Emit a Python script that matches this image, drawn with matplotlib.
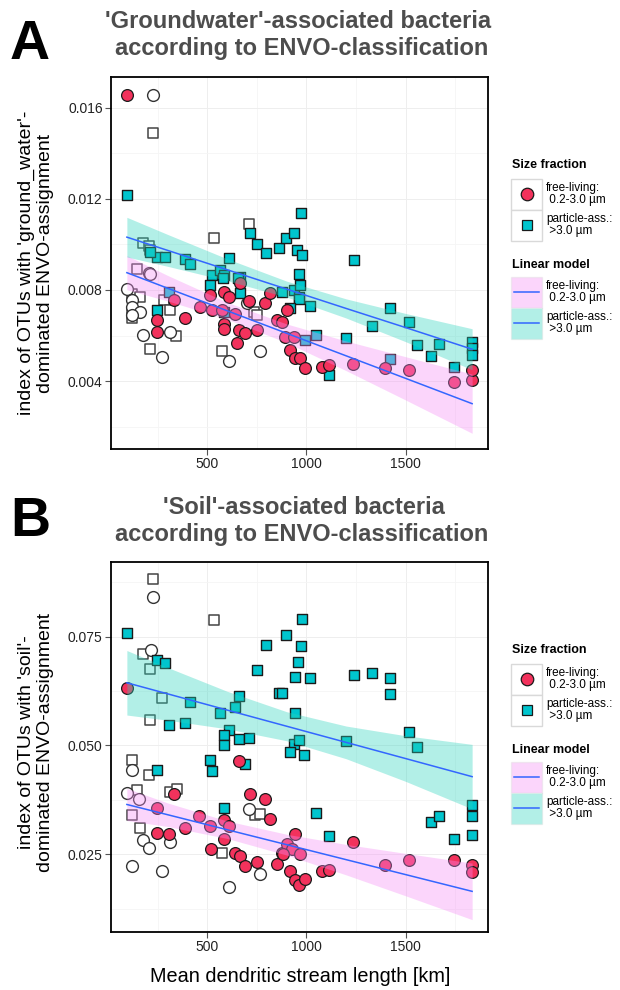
import matplotlib
matplotlib.use("Agg")
import matplotlib.pyplot as plt
from matplotlib.lines import Line2D
from matplotlib.patches import Rectangle
from matplotlib.ticker import MultipleLocator, FormatStrFormatter

plt.rcParams['font.family'] = ['Liberation Sans', 'DejaVu Sans']

W, H = 620, 990
RED = '#F2325C'; TEAL = '#00C5CE'; BLUE = '#3366FF'
PINK_RIB = '#F58CF5'; TEAL_RIB = '#2BD4BD'

# ---- panel A: groundwater ----
a_free_x = [95, 333, 515, 582, 608, 663, 465, 524, 574, 641, 246, 249, 389, 582, 586, 658, 692, 650, 751, 709,
            793, 818, 852, 877, 902, 894, 936, 919, 944, 966, 995, 1079, 1113, 1236, 1394, 1517, 1745, 1832, 1832]
a_free_y = [.01657, .00756, .00778, .00793, .00771, .00829, .00727, .00712, .00712, .00694, .00668, .00617, .00676,
            .0065, .00629, .00624, .0061, .00566, .00624, .00753, .00742, .00788, .00668, .00661, .00712, .00592,
            .00592, .00536, .005, .005, .00456, .00463, .0047, .00473, .00456, .00448, .00397, .00404, .00448]
a_part_x = [97, 717, 751, 796, 864, 899, 939, 975, 953, 978, 1239, 246, 288, 389, 411, 608, 524, 566, 582, 663,
            961, 578, 653, 663, 515, 877, 936, 961, 966, 961, 1020, 919, 305, 586, 249, 1421, 1517, 1332, 1559,
            1668, 1626, 1832, 1832, 1832, 1050, 995, 1197, 1421, 1745, 1113, 212]
a_part_y = [.01215, .01052, .01001, .00961, .00983, .01027, .01049, .01137, .00976, .00954, .00932, .00946, .00946,
            .00936, .00914, .00942, .00866, .00888, .00866, .00856, .0087, .00851, .00851, .00788, .00822, .00793,
            .008, .00771, .00822, .00759, .0073, .0072, .00793, .00705, .00712, .0072, .00661, .00642, .00558,
            .00563, .0051, .00573, .00544, .00514, .00602, .0058, .00588, .00495, .00464, .00426, .00968]
a_ocirc_x = [229, 204, 212, 95, 120, 120, 162, 120, 178, 313, 271, 608, 700, 764]
a_ocirc_y = [.01654, .00876, .00872, .00803, .00756, .00727, .00705, .0069, .00602, .00617, .00507, .00488, .00742, .00532]
a_osq_x = [229, 709, 532, 178, 204, 212, 145, 120, 162, 283, 120, 120, 313, 343, 212, 574, 734, 751]
a_osq_y = [.01489, .0109, .01027, .01008, .00995, .00976, .00891, .00782, .00768, .00756, .00698, .00676, .00712,
           .00598, .00539, .00532, .00705, .0069]

fit_x = [95, 300, 600, 900, 1200, 1500, 1835]
a_free_fit = [.00876, .00808, .00709, .0061, .00511, .00412, .00301]
a_free_lo = [.00801, .00752, .00672, .00569, .00446, .00317, .00171]
a_free_hi = [.00951, .00864, .00746, .00651, .00576, .00507, .00431]
a_part_fit = [.01032, .00974, .00889, .00804, .00719, .00635, .0054]
a_part_lo = [.00945, .00904, .00841, .00769, .00677, .00573, .0045]
a_part_hi = [.01119, .01044, .00937, .00839, .00761, .00697, .0063]

# ---- panel B: soil ----
b_free_x = [95, 330, 717, 793, 818, 658, 246, 461, 389, 512, 586, 608, 582, 249, 305, 519, 641, 663, 692, 751,
            852, 877, 902, 944, 927, 966, 882, 919, 944, 961, 995, 1079, 1113, 1236, 1394, 1517, 1745, 1832, 1832]
b_free_y = [.06318, .03873, .03873, .03774, .03314, .04639, .03567, .03367, .03107, .03137, .03291, .03137, .02854,
            .02983, .02969, .02624, .02523, .02447, .02224, .02316, .02263, .02523, .02739, .02969, .02624, .02509,
            .02509, .02109, .01911, .0178, .01934, .02109, .02141, .02776, .02256, .02355, .02355, .0224, .02086]
b_part_x = [97, 796, 897, 978, 975, 246, 288, 751, 956, 941, 1020, 1239, 1332, 1421, 1421, 411, 860, 877, 658, 641,
            566, 305, 389, 608, 586, 658, 713, 944, 1517, 1559, 1197, 936, 961, 919, 990, 582, 515, 524, 688, 249,
            582, 1050, 1113, 1626, 1668, 1745, 1832, 1832, 1832]
b_part_y = [.07583, .07316, .07546, .07914, .07277, .06971, .06893, .06741, .06916, .06571, .06557, .0661, .06672,
            .06557, .06189, .05996, .06212, .06203, .06127, .05881, .05743, .0546, .05513, .05361, .0523, .05138,
            .05177, .05743, .05306, .04961, .0510, .05039, .05115, .04846, .0477, .050, .04671, .04402, .04579,
            .04441, .03567, .03443, .02914, .03236, .03374, .02854, .0362, .03374, .02934]
b_ocirc_x = [229, 216, 120, 95, 158, 178, 204, 313, 120, 271, 709, 608, 764]
b_ocirc_y = [.08411, .07185, .04425, .03903, .03774, .02831, .02647, .02776, .02217, .02109, .03544, .01741, .02033]
b_osq_x = [229, 532, 175, 212, 271, 212, 120, 204, 145, 313, 347, 120, 162, 742, 768, 574]
b_osq_y = [.08834, .07875, .07093, .06748, .06088, .05591, .04671, .0431, .03965, .03926, .04004, .0339, .03107,
           .0339, .03413, .02523]

b_free_fit = [.03643, .03408, .03063, .02719, .02374, .0203, .01645]
b_free_lo = [.03273, .03137, .02862, .0248, .02024, .01542, .00995]
b_free_hi = [.04013, .03679, .03264, .02958, .02724, .02518, .02295]
b_part_fit = [.06442, .06188, .05815, .05443, .05071, .04699, .04283]
b_part_lo = [.057, .05582, .05383, .05109, .04695, .04174, .03541]
b_part_hi = [.07184, .06794, .06247, .05777, .05447, .05224, .05025]

legend_labels = ["free-living:\n 0.2-3.0 µm", "particle-ass.:\n >3.0 µm"]


def fx(x): return x / W
def fy(y): return 1 - y / H


def panel(ax, pts, fits, ylim, ystep):
    ocx, ocy, osx, osy, frx, fry, ptx, pty = pts
    ax.scatter(osx, osy, marker='s', s=55, facecolor='white', edgecolor='#444444', lw=1.1, zorder=2)
    ax.scatter(ocx, ocy, marker='o', s=72, facecolor='white', edgecolor='#333333', lw=1.0, zorder=2)
    ax.scatter(ptx, pty, marker='s', s=55, facecolor=TEAL, edgecolor='#1a1a1a', lw=1.0, zorder=3)
    ax.scatter(frx, fry, marker='o', s=72, facecolor=RED, edgecolor='#1a1a1a', lw=0.9, zorder=3)
    ffit, flo, fhi, pfit, plo, phi = fits
    ax.fill_between(fit_x, flo, fhi, color=PINK_RIB, alpha=0.36, lw=0, zorder=4)
    ax.fill_between(fit_x, plo, phi, color=TEAL_RIB, alpha=0.36, lw=0, zorder=4)
    ax.plot(fit_x, ffit, color=BLUE, lw=1.1, zorder=5)
    ax.plot(fit_x, pfit, color=BLUE, lw=1.1, zorder=5)
    ax.set_xlim(15, 1915); ax.set_ylim(*ylim)
    ax.xaxis.set_major_locator(MultipleLocator(500)); ax.xaxis.set_minor_locator(MultipleLocator(250))
    ax.yaxis.set_major_locator(MultipleLocator(ystep)); ax.yaxis.set_minor_locator(MultipleLocator(ystep / 2))
    ax.yaxis.set_major_formatter(FormatStrFormatter('%.3f'))
    ax.grid(which='major', color='#EEEEEE', lw=0.7, zorder=0)
    ax.grid(which='minor', color='#F5F5F5', lw=0.6, zorder=0)
    ax.set_axisbelow(True)
    for s in ax.spines.values():
        s.set_color('black'); s.set_linewidth(1.3)
    ax.tick_params(which='major', direction='out', length=4, width=0.8, color='#555555',
                   labelsize=10, labelcolor='#222222', pad=2)
    ax.tick_params(which='minor', length=0)


def legend(y0):
    fig.text(fx(512), fy(y0), "Size fraction", fontsize=9, weight='bold', va='center', ha='left')
    ky = y0 + 13.5
    for i, (mk, col, ms) in enumerate([('o', RED, 9.0), ('s', TEAL, 7.4)]):
        top = ky + i * 31
        fig.add_artist(Rectangle((fx(511), fy(top + 31)), 31 / W, 31 / H, facecolor='white',
                                 edgecolor='#D9D9D9', lw=1.0, transform=fig.transFigure))
        fig.add_artist(Line2D([fx(526.5)], [fy(top + 15.5)], marker=mk, ms=ms, mfc=col, mec='#1a1a1a',
                              mew=0.9, ls='none', transform=fig.transFigure))
        fig.text(fx(546), fy(top + 15.5), legend_labels[i], fontsize=8.5, va='center', ha='left', linespacing=1.05)
    y1 = y0 + 100
    fig.text(fx(512), fy(y1), "Linear model", fontsize=9, weight='bold', va='center', ha='left')
    ky = y1 + 11.5
    for i, col in enumerate([PINK_RIB, TEAL_RIB]):
        top = ky + i * 31
        fig.add_artist(Rectangle((fx(511), fy(top + 31)), 31 / W, 31 / H, facecolor='white',
                                 edgecolor='none', transform=fig.transFigure))
        fig.add_artist(Rectangle((fx(511), fy(top + 31)), 31 / W, 31 / H, facecolor=col, alpha=0.36,
                                 edgecolor='#D9D9D9', lw=1.0, transform=fig.transFigure))
        fig.add_artist(Line2D([fx(514), fx(539)], [fy(top + 15.5)] * 2, color=BLUE, lw=1.1,
                              transform=fig.transFigure))
        fig.text(fx(546), fy(top + 15.5), legend_labels[i], fontsize=8.5, va='center', ha='left', linespacing=1.05)


fig = plt.figure(figsize=(6.2, 9.9), dpi=100)
axA = fig.add_axes([fx(111), fy(449), 377 / W, 372 / H])
panel(axA, (a_ocirc_x, a_ocirc_y, a_osq_x, a_osq_y, a_free_x, a_free_y, a_part_x, a_part_y),
      (a_free_fit, a_free_lo, a_free_hi, a_part_fit, a_part_lo, a_part_hi), (0.00102, 0.01735), 0.004)
axB = fig.add_axes([fx(111), fy(932), 377 / W, 370 / H])
panel(axB, (b_ocirc_x, b_ocirc_y, b_osq_x, b_osq_y, b_free_x, b_free_y, b_part_x, b_part_y),
      (b_free_fit, b_free_lo, b_free_hi, b_part_fit, b_part_lo, b_part_hi), (0.0071, 0.0922), 0.025)

TCOL = '#4D4D4D'
fig.text(fx(10), fy(45), "A", fontsize=40, weight='bold', va='center', ha='left')
fig.text(fx(298), fy(22), "'Groundwater'-associated bacteria", fontsize=17, weight='bold', color=TCOL, ha='center', va='center')
fig.text(fx(302), fy(48), "according to ENVO-classification", fontsize=17, weight='bold', color=TCOL, ha='center', va='center')
fig.text(fx(10), fy(522), "B", fontsize=40, weight='bold', va='center', ha='left')
fig.text(fx(304), fy(508), "'Soil'-associated bacteria", fontsize=17, weight='bold', color=TCOL, ha='center', va='center')
fig.text(fx(302), fy(534), "according to ENVO-classification", fontsize=17, weight='bold', color=TCOL, ha='center', va='center')

fig.text(fx(36), fy(263), "index of OTUs with 'ground_water'-\ndominated ENVO-assignment", fontsize=14,
         rotation=90, ha='center', va='center', multialignment='center', linespacing=1.2)
fig.text(fx(36), fy(742), "index of OTUs with 'soil'-\ndominated ENVO-assignment", fontsize=14,
         rotation=90, ha='center', va='center', multialignment='center', linespacing=1.2)
fig.text(fx(300), fy(976), "Mean dendritic stream length [km]", fontsize=14.3, ha='center', va='center')

legend(165)
legend(650)

fig.savefig("out.png", dpi=100)
